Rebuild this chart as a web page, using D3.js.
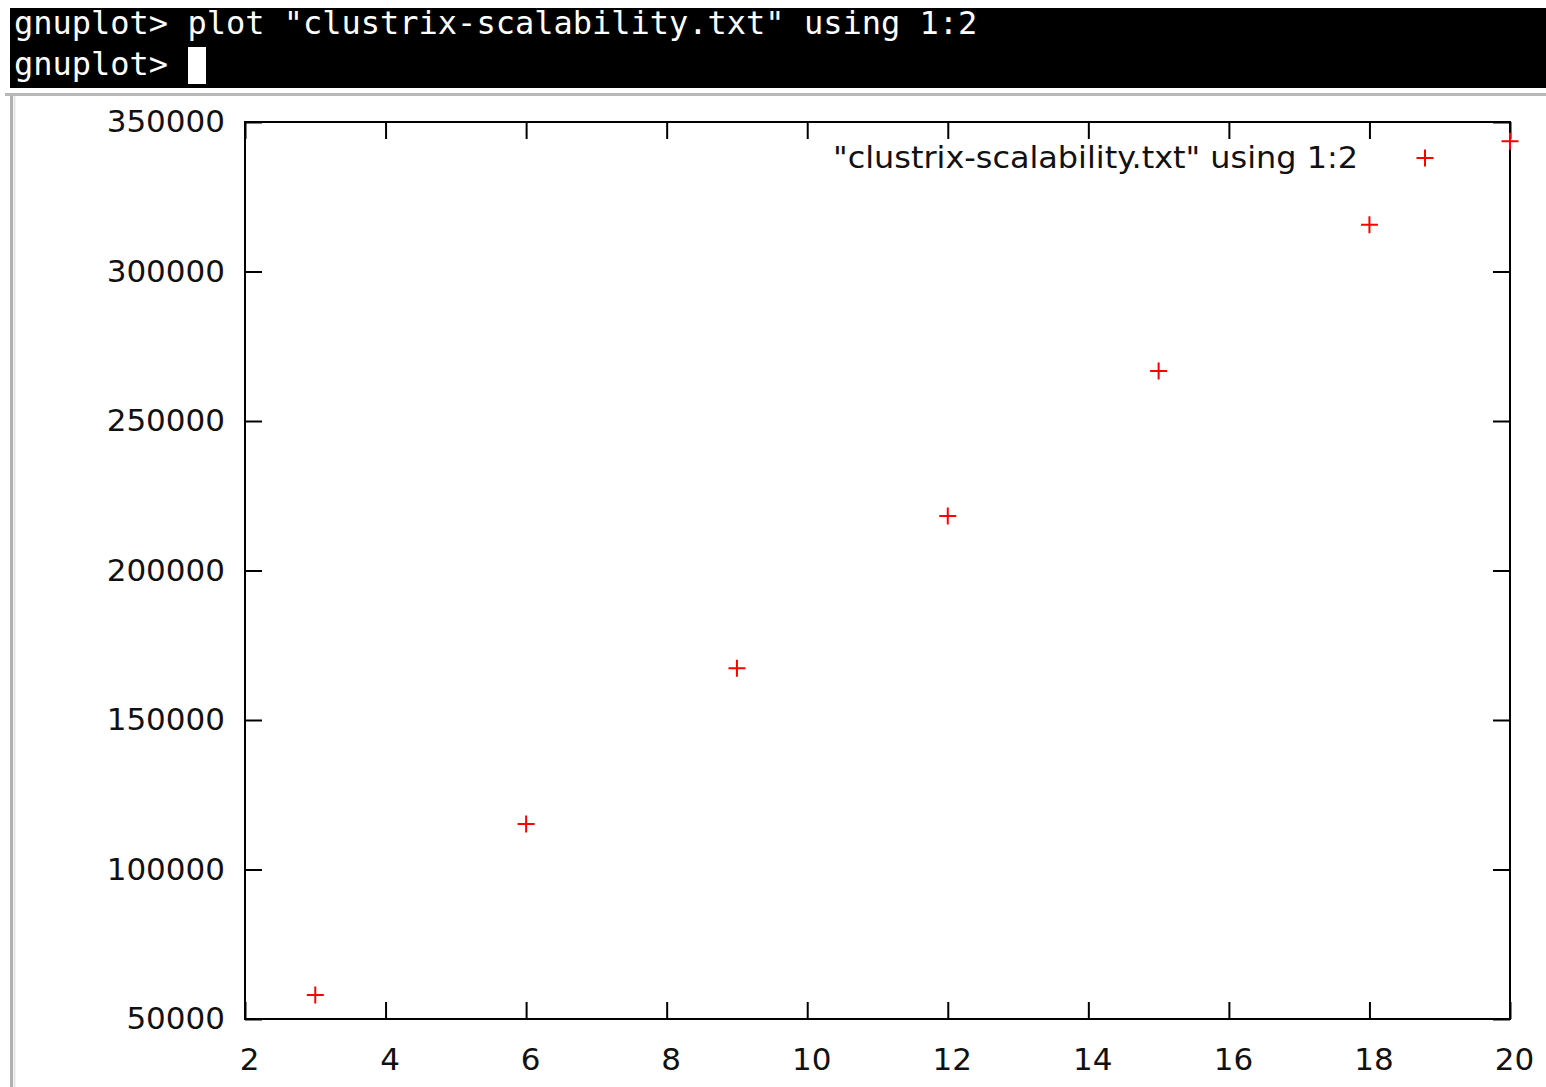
<!DOCTYPE html>
<html><head><meta charset="utf-8">
<script src="https://cdn.jsdelivr.net/npm/d3@7"></script>
<style>html,body{margin:0;padding:0;background:#fff;overflow:hidden}</style>
</head><body>
<svg id="chart" width="1546" height="1087"></svg>
<script>
const xValues = [3, 6, 9, 12, 15, 18, 20];
const yValues = [58000, 115200, 167300, 218200, 266700, 315600, 343600];
const xTicks = [2, 4, 6, 8, 10, 12, 14, 16, 18, 20];
const yTicks = [50000, 100000, 150000, 200000, 250000, 300000, 350000];
const seriesLabel = '"clustrix-scalability.txt" using 1:2';
const termLines = ['gnuplot> plot "clustrix-scalability.txt" using 1:2', 'gnuplot> '];

const svg = d3.select("#chart");
const W = 1546, H = 1087;
const m = {left: 245, right: 1510, top: 122, bottom: 1019};

// window chrome
svg.append("rect").attr("x", 0).attr("y", 0).attr("width", W).attr("height", H).attr("fill", "#fff");
svg.append("rect").attr("x", 10).attr("y", 8).attr("width", W - 10).attr("height", 80).attr("fill", "#000");
svg.append("line").attr("x1", 5).attr("x2", W).attr("y1", 94.5).attr("y2", 94.5).attr("stroke", "#b8b8b8").attr("stroke-width", 3);
svg.append("line").attr("x1", 11.5).attr("x2", 11.5).attr("y1", 96).attr("y2", H).attr("stroke", "#b0b0b0").attr("stroke-width", 3);
svg.append("line").attr("x1", 14.5).attr("x2", 14.5).attr("y1", 96).attr("y2", H).attr("stroke", "#e6e6e6").attr("stroke-width", 2);
termLines.forEach((t, i) => {
  svg.append("text").attr("x", 14).attr("y", 34 + i * 41)
    .attr("fill", "#fff").attr("font-family", "DejaVu Sans Mono").attr("font-size", 32)
    .attr("xml:space", "preserve").style("white-space", "pre").text(t);
});
svg.append("rect").attr("x", 188).attr("y", 47).attr("width", 18).attr("height", 37).attr("fill", "#fff");

const x = d3.scaleLinear().domain([2, 20]).range([m.left, m.right]);
const y = d3.scaleLinear().domain([50000, 350000]).range([m.bottom, m.top]);
const tl = 17;

// ticks via d3 axes (inward)
const fmt = d3.format("d");
const bottomAxis = d3.axisBottom(x).tickValues(xTicks).tickFormat(fmt).tickSize(-tl).tickPadding(29);
const topAxis = d3.axisTop(x).tickValues(xTicks).tickFormat("").tickSize(-tl);
const leftAxis = d3.axisLeft(y).tickValues(yTicks).tickFormat(fmt).tickSize(-tl).tickPadding(20);
const rightAxis = d3.axisRight(y).tickValues(yTicks).tickFormat("").tickSize(-tl);

function style(g) {
  g.select(".domain").remove();
  g.selectAll(".tick line").attr("stroke", "#000").attr("stroke-width", 2);
  g.selectAll(".tick text").attr("fill", "#111").attr("font-family", "DejaVu Sans").attr("font-size", 31);
}
svg.append("g").attr("transform", `translate(0,${m.bottom})`).call(bottomAxis).call(style)
  .selectAll(".tick text").attr("dx", 4);
svg.append("g").attr("transform", `translate(0,${m.top})`).call(topAxis).call(style);
svg.append("g").attr("transform", `translate(${m.left},0)`).call(leftAxis).call(style);
svg.append("g").attr("transform", `translate(${m.right},0)`).call(rightAxis).call(style);

// frame
svg.append("rect").attr("x", m.left).attr("y", m.top).attr("width", m.right - m.left).attr("height", m.bottom - m.top)
  .attr("fill", "none").attr("stroke", "#000").attr("stroke-width", 2);

// points
const arm = 8.5;
const pts = svg.append("g").attr("stroke", "#f00").attr("stroke-width", 2);
xValues.forEach((xv, i) => {
  const cx = x(xv), cy = y(yValues[i]);
  pts.append("path").attr("d", `M${cx - arm},${cy}H${cx + arm}M${cx},${cy - arm}V${cy + arm}`);
});

// legend
svg.append("text").attr("x", 1358).attr("y", 168).attr("text-anchor", "end")
  .attr("font-family", "DejaVu Sans").attr("font-size", 31).attr("fill", "#111")
  .attr("textLength", 525).attr("lengthAdjust", "spacingAndGlyphs").text(seriesLabel);
svg.append("path").attr("stroke", "#f00").attr("stroke-width", 2)
  .attr("d", `M${1425 - arm},158H${1425 + arm}M1425,${158 - arm}V${158 + arm}`);
</script>
</body></html>
